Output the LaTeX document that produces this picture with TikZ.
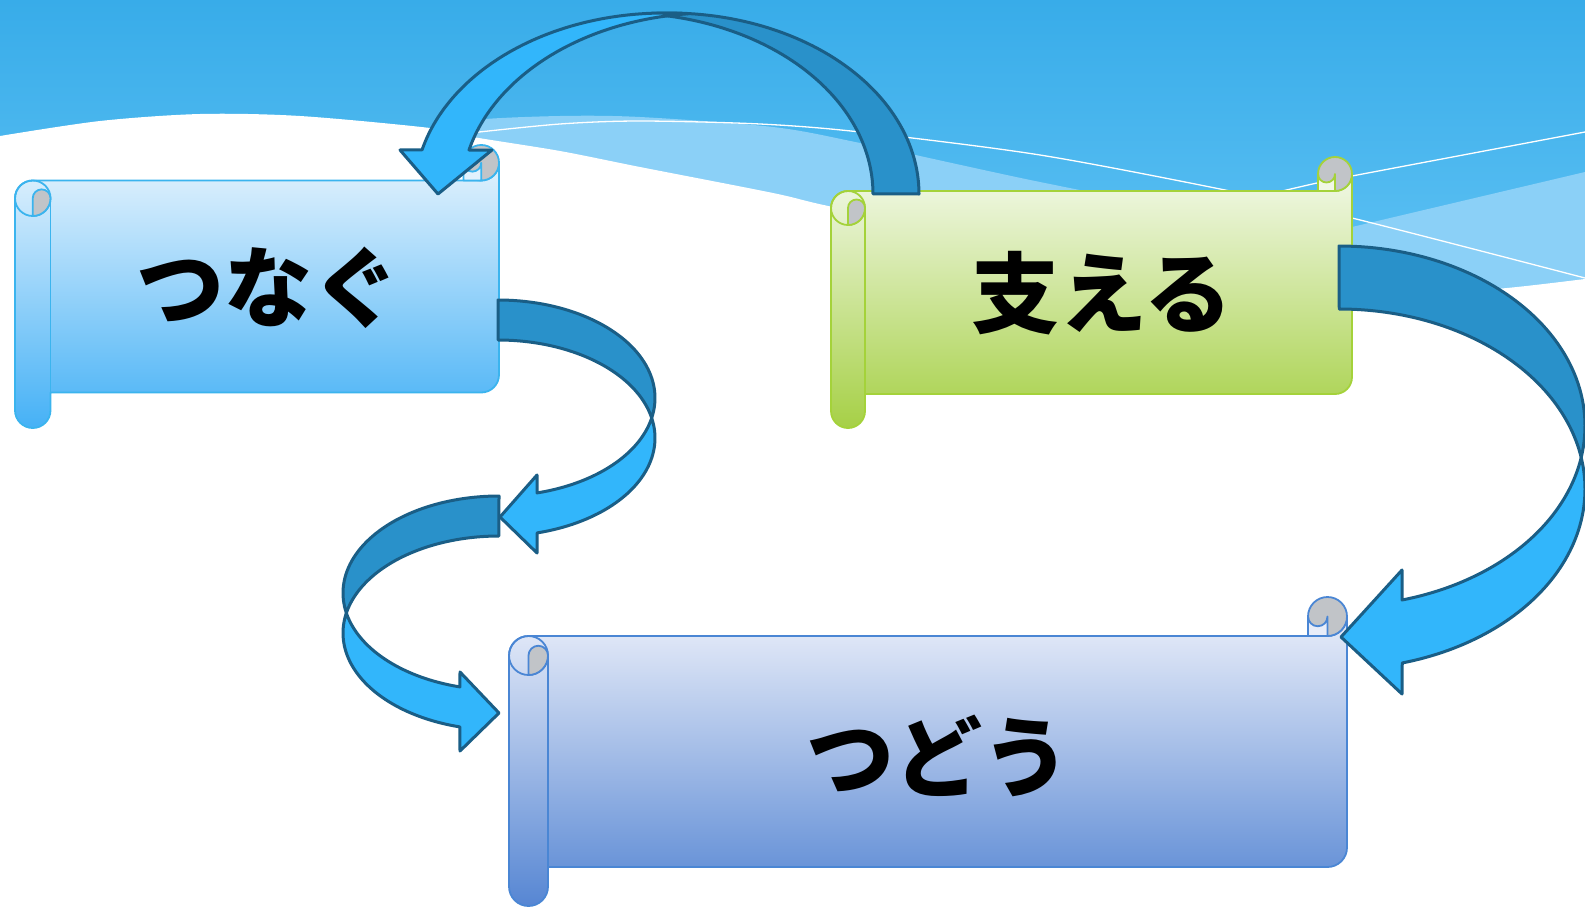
\documentclass[tikz,border=0pt]{standalone}
\usepackage{fontspec}
\newfontfamily\jpfont{Noto Sans CJK JP}
\definecolor{skyTop}{RGB}{56,172,233}
\definecolor{skyBot}{RGB}{98,196,245}
\definecolor{bandCol}{RGB}{139,208,247}
\definecolor{arrDark}{RGB}{41,145,202}
\definecolor{arrLight}{RGB}{50,182,251}
\definecolor{arrLine}{RGB}{26,94,134}
\definecolor{sOneTop}{RGB}{226,242,253}
\definecolor{sOneBot}{RGB}{69,177,246}
\definecolor{sOneLine}{RGB}{59,180,238}
\definecolor{sTwoTop}{RGB}{241,248,230}
\definecolor{sTwoBot}{RGB}{166,208,70}
\definecolor{sTwoLine}{RGB}{164,210,58}
\definecolor{sThrTop}{RGB}{232,237,249}
\definecolor{sThrBot}{RGB}{86,134,211}
\definecolor{sThrLine}{RGB}{74,134,212}
\definecolor{curlGray}{RGB}{193,196,200}
\tikzset{
  arrowdark/.style={fill=arrDark, draw=arrLine, line width=3pt, line join=round},
  arrowlight/.style={fill=arrLight, draw=arrLine, line width=3pt, line join=round},
  wordlabel/.style={font=\jpfont\bfseries\fontsize{88}{96}\selectfont, text=black, inner sep=0pt},
}
% l, t, r, b, ch, top colour, bottom colour, line colour
\newcommand{\drawscroll}[8]{%
  \pgfmathsetmacro\scL{#1}\pgfmathsetmacro\scT{#2}%
  \pgfmathsetmacro\scR{#3}\pgfmathsetmacro\scB{#4}%
  \pgfmathsetmacro\scC{#5}\pgfmathsetmacro\scH{#5/2}\pgfmathsetmacro\scQ{#5/4}%
  \draw[draw=#8, line width=1.8pt, top color=#6, bottom color=#7, line join=round]
    ({\scR},{\scT+\scH}) -- ({\scR},{\scB-\scC-\scH})
    arc[start angle=0, end angle=90, radius=\scH]
    -- ({\scL+\scC},{\scB-\scC}) -- ({\scL+\scC},{\scB-\scH})
    arc[start angle=0, end angle=180, radius=\scH]
    -- ({\scL},{\scT+\scC+\scH})
    arc[start angle=180, end angle=270, radius=\scH]
    -- ({\scR-\scH},{\scT+\scC})
    arc[start angle=90, end angle=0, radius=\scH] -- cycle;
  \draw[draw=#8, line width=1.8pt] ({\scL+\scC},{\scT+\scC+\scH}) -- ({\scL+\scC},{\scB-\scC});
  \draw[draw=#8, line width=1.8pt] ({\scL+\scH},{\scT+\scC+\scH}) circle[radius=\scH];
  \draw[draw=#8, line width=1.8pt, fill=curlGray, line join=round]
    ({\scL+\scH},{\scT+2*\scC}) -- ({\scL+\scH},{\scT+\scC+\scH})
    arc[start angle=180, end angle=360, radius=\scQ]
    arc[start angle=0, end angle=90, radius=\scH] -- cycle;
  \draw[draw=#8, line width=1.8pt, fill=curlGray] ({\scR-\scH},{\scT+\scH}) circle[radius=\scH];
  \draw[draw=#8, line width=1.8pt, fill=#6, line join=round]
    ({\scR-\scC},{\scT+\scC}) -- ({\scR-\scC},{\scT+\scH})
    arc[start angle=180, end angle=0, radius=\scQ]
    -- ({\scR-\scH},{\scT+\scC}) -- cycle;
}
\begin{document}
\begin{tikzpicture}[x=1pt, y=-1pt]
\useasboundingbox (0,0) rectangle (1585,907);
% background
\fill[white] (0,0) rectangle (1585,907);
\shade[top color=skyTop, bottom color=skyBot] (0,0) rectangle (1585,320);
\fill[bandCol] plot[smooth] coordinates {(420,131) (473,120) (560,116) (640,117) (773,127) (860,143) (1040,182) (1200,212) (1352,227)}
  -- (1585,172) -- (1585,330) -- (420,330) -- cycle;
\draw[white, line width=1.3pt] plot[smooth] coordinates {(470,133) (560,124) (640,121) (760,124) (860,132) (1040,155) (1230,191) (1352,218) (1585,278)};
\draw[white, line width=1.3pt] plot[smooth] coordinates {(1278,192) (1317,183) (1352,176) (1585,132)};
\fill[white] plot[smooth] coordinates {(0,136) (100,121) (200,114) (300,116) (430,128) (473,137) (560,151) (640,167) (773,193) (833,207) (1000,240) (1200,270) (1352,290) (1430,293) (1507,288) (1585,279)}
  -- (1585,907) -- (0,907) -- cycle;
% scrolls
\drawscroll{15}{145}{499}{428}{35.5}{sOneTop}{sOneBot}{sOneLine}
\drawscroll{831}{157}{1352}{428}{34}{sTwoTop}{sTwoBot}{sTwoLine}
\drawscroll{509}{597}{1347}{906}{39}{sThrTop}{sThrBot}{sThrLine}
% labels
\node[wordlabel] (tsunagu) at (268,288) {つなぐ};
\node[wordlabel] (sasaeru) at (1102,293) {支える};
\node[wordlabel] (tsudou) at (938,756) {つどう};
% arrow A : from 支える over the top to つなぐ
\draw[arrowdark] plot[domain=0:1, samples=60, variable=\t] ({669+250*cos(-95.3*\t)},{194+181*sin(-95.3*\t)})
  -- plot[domain=0:1, samples=60, variable=\t] ({623+250*cos(-84.7+84.7*\t)},{194+181*sin(-84.7+84.7*\t)}) -- cycle;
\draw[arrowlight] plot[domain=0:1, samples=60, variable=\t] ({664.5+250*cos(-84.6-81.33*\t)},{194+181*sin(-84.6-81.33*\t)})
  -- (400,150) -- (438,194) -- (492,150)
  -- plot[domain=0:1, samples=60, variable=\t] ({711.5+250*cos(-165.93+70.53*\t)},{194+181*sin(-165.93+70.53*\t)}) -- cycle;
% arrow B : from つなぐ round to the left
\draw[arrowdark] plot[domain=0:1, samples=50, variable=\t] ({498+157*cos(-90+101.78*\t)},{398+98*sin(-90+101.78*\t)})
  -- plot[domain=0:1, samples=50, variable=\t] ({498+157*cos(-11.78-78.22*\t)},{438+98*sin(-11.78-78.22*\t)}) -- cycle;
\draw[arrowlight] plot[domain=0:1, samples=50, variable=\t] ({498+157*cos(-11.78+87.38*\t)},{438+98*sin(-11.78+87.38*\t)})
  -- (537,553) -- (500,517) -- (537,475)
  -- plot[domain=0:1, samples=50, variable=\t] ({498+157*cos(75.6-63.82*\t)},{398+98*sin(75.6-63.82*\t)}) -- cycle;
% arrow C : round to the right, into つどう
\draw[arrowdark] plot[domain=0:1, samples=50, variable=\t] ({499+156*cos(270-101.9*\t)},{593+97*sin(270-101.9*\t)})
  -- plot[domain=0:1, samples=50, variable=\t] ({499+156*cos(191.9+78.1*\t)},{633+97*sin(191.9+78.1*\t)}) -- cycle;
\draw[arrowlight] plot[domain=0:1, samples=50, variable=\t] ({499+156*cos(191.9-87.4*\t)},{633+97*sin(191.9-87.4*\t)})
  -- (460,751) -- (499,713) -- (460,672)
  -- plot[domain=0:1, samples=50, variable=\t] ({499+156*cos(104.5+63.6*\t)},{593+97*sin(104.5+63.6*\t)}) -- cycle;
% arrow D : from 支える round the right side into つどう
\draw[arrowdark] plot[domain=0:1, samples=60, variable=\t] ({1339+246*cos(-90+100.08*\t)},{426+180*sin(-90+100.08*\t)})
  -- plot[domain=0:1, samples=60, variable=\t] ({1339+246*cos(-10.08-79.92*\t)},{489+180*sin(-10.08-79.92*\t)}) -- cycle;
\draw[arrowlight] plot[domain=0:1, samples=60, variable=\t] ({1339+246*cos(-10.08+85.24*\t)},{489+180*sin(-10.08+85.24*\t)})
  -- (1402,694) -- (1341,637) -- (1402,570)
  -- plot[domain=0:1, samples=60, variable=\t] ({1339+246*cos(75.16-65.08*\t)},{426+180*sin(75.16-65.08*\t)}) -- cycle;
\end{tikzpicture}
\end{document}
